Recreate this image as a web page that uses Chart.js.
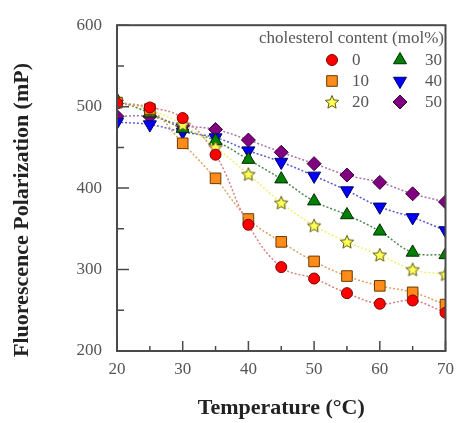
<!DOCTYPE html>
<html>
<head>
<meta charset="utf-8">
<script src="https://cdn.jsdelivr.net/npm/chart.js@4"></script>
<style>
    html, body { margin: 0; padding: 0; background: #fff; }
    #wrap { width: 462px; height: 423px; }
</style>
</head>
<body>
<div id="wrap"><canvas id="fpChart" width="462" height="423"></canvas></div>
<script>
// Data
const temperatures = [20, 25, 30, 35, 40, 45, 50, 55, 60, 65, 70];
const cholLabels = ['0', '10', '20', '30', '40', '50'];
const chol0  = [504, 499, 486, 441, 355, 303, 289, 271, 258, 262, 247];
const chol10 = [505, 497, 455, 412, 362, 334, 310, 292, 280, 272, 257];
const chol20 = [506, 496, 478, 450, 417, 382, 354, 334, 318, 300, 294];
const chol30 = [508, 492, 473, 458, 435, 411, 384, 367, 347, 321, 318];
const chol40 = [481, 478, 469, 462, 446, 432, 415, 397, 377, 364, 348];
const chol50 = [488, 488, 477, 472, 459, 444, 430, 416, 407, 393, 383];
const xTicks = [20, 30, 40, 50, 60, 70];
const yTicks = [200, 300, 400, 500, 600];

const SERIF = "'Liberation Serif', 'DejaVu Serif', serif";
const AXIS_COLOR = '#4a4a4a';
const TEXT_COLOR = '#555';

// Filled star marker (Chart.js's own 'star' is stroke-only)
function makeStar(fill, stroke) {
    const c = document.createElement('canvas');
    c.width = 16; c.height = 16;
    const g = c.getContext('2d');
    g.beginPath();
    for (let i = 0; i < 10; i++) {
        const r = i % 2 === 0 ? 7 : 3.2;
        const a = -Math.PI / 2 + i * Math.PI / 5;
        const px = 8 + r * Math.cos(a), py = 8.5 + r * Math.sin(a);
        if (i === 0) g.moveTo(px, py); else g.lineTo(px, py);
    }
    g.closePath();
    g.fillStyle = fill;
    g.fill();
    g.strokeStyle = stroke;
    g.lineWidth = 1;
    g.stroke();
    return c;
}
const starImg = makeStar('#ffff55', '#5a5a10');

function series(label, data, fill, border, line, style, radius, rotation) {
    return {
        label: label,
        data: temperatures.map((t, i) => ({ x: t, y: data[i] })),
        borderColor: line,
        borderWidth: 1.5,
        borderDash: [2, 2],
        backgroundColor: fill,
        pointBackgroundColor: fill,
        pointBorderColor: border,
        pointBorderWidth: 1,
        pointStyle: style,
        pointRadius: radius,
        pointRotation: rotation || 0,
        tension: 0.4,
        fill: false,
        clip: 0
    };
}

const datasets = [
    series('0',  chol0,  '#ff0000', '#7a0000', '#d98080', 'circle', 5.5),
    series('10', chol10, '#ff8c1a', '#6a3a00', '#e0a060', 'rect', 7.5),
    series('20', chol20, '#ffff55', '#5a5a10', '#f0f070', starImg, 7),
    series('30', chol30, '#008000', '#002a00', '#4a8a4a', 'triangle', 7.5),
    series('40', chol40, '#0000ff', '#000060', '#5a5ad0', 'triangle', 7.5, 180),
    series('50', chol50, '#800080', '#3a003a', '#a870a8', 'rectRot', 7)
];

// Frame, inward ticks, axis titles and the two-column legend
const decorPlugin = {
    id: 'decor',
    afterDatasetsDraw(chart) {
        const { ctx, chartArea: a, scales } = chart;
        const xs = scales.x, ys = scales.y;
        ctx.save();
        ctx.strokeStyle = AXIS_COLOR;
        ctx.lineWidth = 2;
        ctx.strokeRect(a.left, a.top, a.right - a.left, a.bottom - a.top);

        ctx.lineWidth = 1.5;
        ctx.beginPath();
        for (let v = 200; v <= 600; v += 50) {
            const y = ys.getPixelForValue(v);
            const len = v % 100 === 0 ? 12 : 7;
            ctx.moveTo(a.left, y);
            ctx.lineTo(a.left + len, y);
        }
        for (let t = 20; t <= 70; t += 5) {
            const x = xs.getPixelForValue(t);
            const len = t % 10 === 0 ? 10 : 5;
            ctx.moveTo(x, a.bottom);
            ctx.lineTo(x, a.bottom - len);
        }
        ctx.stroke();

        // axis titles
        ctx.fillStyle = '#222';
        ctx.font = 'bold 22px ' + SERIF;
        ctx.textAlign = 'center';
        ctx.textBaseline = 'middle';
        ctx.fillText('Temperature (\u00B0C)', (a.left + a.right) / 2, 408);
        ctx.save();
        ctx.translate(22, 210);
        ctx.rotate(-Math.PI / 2);
        ctx.fillText('Fluorescence Polarization (mP)', 0, 0);
        ctx.restore();

        // legend
        ctx.fillStyle = TEXT_COLOR;
        ctx.font = '17px ' + SERIF;
        ctx.textAlign = 'right';
        ctx.fillText('cholesterol content (mol%)', 444, 39);
        const rows = [60, 81, 102];
        const cols = [{ mark: 332, text: 352 }, { mark: 400, text: 425 }];
        ctx.textAlign = 'left';
        chart.data.datasets.forEach((ds, i) => {
            const col = cols[Math.floor(i / 3)];
            const y = rows[i % 3];
            ctx.fillStyle = ds.pointBackgroundColor;
            ctx.strokeStyle = ds.pointBorderColor;
            ctx.lineWidth = 1;
            ctx.setLineDash([]);
            Chart.helpers.drawPoint(ctx, {
                pointStyle: ds.pointStyle,
                radius: ds.pointRadius,
                rotation: ds.pointRotation,
                borderWidth: 1
            }, col.mark, y);
            ctx.fillStyle = TEXT_COLOR;
            ctx.fillText(cholLabels[i], col.text, y + 1);
        });
        ctx.restore();
    }
};

new Chart(document.getElementById('fpChart'), {
    type: 'line',
    data: { datasets: datasets },
    options: {
        responsive: false,
        animation: false,
        events: [],
        layout: { padding: { left: 0, top: 20, right: 13, bottom: 0 } },
        plugins: {
            legend: { display: false },
            tooltip: { enabled: false }
        },
        scales: {
            x: {
                type: 'linear',
                min: 20,
                max: 70,
                afterFit: s => { s.height = 72; },
                afterBuildTicks: s => { s.ticks = xTicks.map(v => ({ value: v })); },
                grid: { display: false, drawTicks: false },
                border: { display: false },
                ticks: {
                    color: TEXT_COLOR,
                    padding: 8,
                    maxRotation: 0,
                    font: { family: SERIF, size: 17 }
                }
            },
            y: {
                type: 'linear',
                min: 200,
                max: 600,
                afterFit: s => { s.width = 117; },
                afterBuildTicks: s => { s.ticks = yTicks.map(v => ({ value: v })); },
                grid: { display: false, drawTicks: false },
                border: { display: false },
                ticks: {
                    color: TEXT_COLOR,
                    padding: 15,
                    font: { family: SERIF, size: 17 }
                }
            }
        }
    },
    plugins: [decorPlugin]
});
</script>
</body>
</html>
